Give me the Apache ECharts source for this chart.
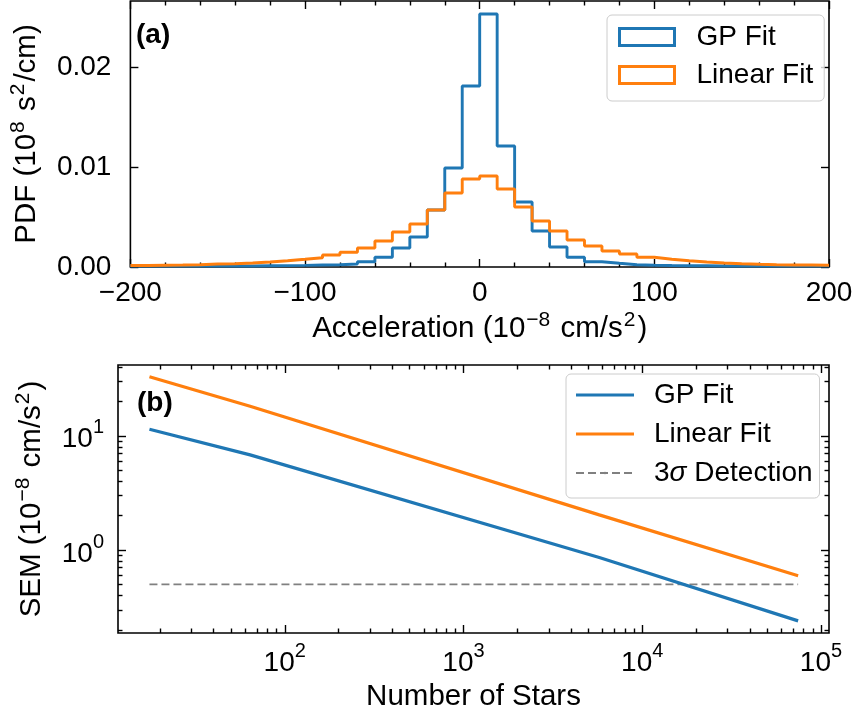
<!DOCTYPE html>
<html>
<head>
<meta charset="utf-8">
<script src="https://cdn.jsdelivr.net/npm/echarts@6/dist/echarts.min.js"></script>
<style>
  html, body { margin: 0; padding: 0; background: #ffffff; }
  #chart { width: 857px; height: 717px; }
</style>
</head>
<body>
<div id="chart"></div>
<script>
// ---- Panel (a): acceleration PDF histograms (bin edges in 1e-8 cm/s^2) ----
const binEdges = [-200, -190, -180, -170, -160, -150, -140, -130, -120, -110,
                  -100, -90, -80, -70, -60, -50, -40, -30, -20, -10,
                  0, 10, 20, 30, 40, 50, 60, 70, 80, 90,
                  100, 110, 120, 130, 140, 150, 160, 170, 180, 190, 200];
const gpDensity = [0.0001, 0.0001, 0.0001, 0.0001, 0.0001, 0.0001, 0.0001, 0.00012, 0.00014, 0.00016,
                   0.0002, 0.00022, 0.0003, 0.00053, 0.00097, 0.0019, 0.0030, 0.0057, 0.0099, 0.0181,
                   0.0253, 0.0121, 0.0065, 0.0036, 0.0020, 0.00097, 0.00053, 0.00037, 0.00022, 0.00018,
                   0.00015, 0.00013, 0.00012, 0.0001, 0.0001, 0.0001, 0.0001, 0.0001, 0.0001, 0.0001];
const linearDensity = [0.00015, 0.00018, 0.0002, 0.00023, 0.0003, 0.00033, 0.0004, 0.0005, 0.00063, 0.00077,
                       0.00093, 0.0012, 0.00147, 0.0019, 0.0026, 0.0035, 0.0043, 0.0057, 0.0074, 0.0088,
                       0.0091, 0.0078, 0.0060, 0.0046, 0.0036, 0.0027, 0.0021, 0.0016, 0.0013, 0.00097,
                       0.00077, 0.00063, 0.0005, 0.0004, 0.00033, 0.00027, 0.00023, 0.0002, 0.0002, 0.00017];
const accelTicks = [-200, -100, 0, 100, 200];
const pdfTicks = [0, 0.01, 0.02];

// ---- Panel (b): standard error of the mean vs number of stars ----
const starCounts = [17.5, 64, 5750, 74500];
const gpSem = [11.4, 6.8, 0.86, 0.24];
const linearSem = [32.8, 18.1, 2.03, 0.596];
const detectionStars = [17.5, 74500];
const detectionSem = [0.5, 0.5];
const starTicks = [100, 1000, 10000, 100000];
const starMinorTicks = [20, 30, 40, 50, 60, 70, 80, 90,
                        200, 300, 400, 500, 600, 700, 800, 900,
                        2000, 3000, 4000, 5000, 6000, 7000, 8000, 9000,
                        20000, 30000, 40000, 50000, 60000, 70000, 80000, 90000];
const semTicks = [1, 10];
const semMinorTicks = [0.2, 0.3, 0.4, 0.5, 0.6, 0.7, 0.8, 0.9,
                       2, 3, 4, 5, 6, 7, 8, 9, 20, 30, 40];

const FONT = "'Liberation Sans', Arial, Helvetica, sans-serif";
const BLUE = '#1f77b4';
const ORANGE = '#ff7f0e';
const FS = 28;       // tick labels, legends, panel tags
const NAME_FS = 29.5; // axis titles
const SUP = { fontSize: 20, fontFamily: FONT, color: '#000', lineHeight: 18, verticalAlign: 'top' };
const NAME_SUP = { fontSize: 21, fontFamily: FONT, color: '#000', lineHeight: 18, verticalAlign: 'top', padding: [0, 2, 0, 1] };
const BASE = { fontSize: FS, fontFamily: FONT, color: '#000', lineHeight: 36, verticalAlign: 'bottom' };

const MAJOR_LEN = 8, MINOR_LEN = 4.5, TICK_W = 1.4;
const NO_LINE = { show: false, onZero: false };

function stepData(edges, vals) {
  const d = vals.map((v, i) => [edges[i], v]);
  d.push([edges[edges.length - 1], vals[vals.length - 1]]);
  return d;
}
function pairs(xs, ys) { return xs.map((x, i) => [x, ys[i]]); }
function powLabel(v) {
  const e = Math.round(Math.log10(v));
  return '{b|10}{s|' + e + '}';
}

const nameStyle = { fontSize: NAME_FS, fontFamily: FONT, color: '#000', lineHeight: 38, rich: { s: NAME_SUP } };

// log-axis helper: one set of custom tick values on one side
function logAxis(kind, grid, pos, min, max, ticks, len, labels, extra) {
  return Object.assign({
    type: 'log', logBase: 10, gridIndex: grid, position: pos, min: min, max: max,
    axisLine: NO_LINE, splitLine: { show: false },
    axisTick: { show: true, inside: true, length: len, customValues: ticks, lineStyle: { color: '#000', width: TICK_W } },
    axisLabel: labels ? { show: true, customValues: ticks, formatter: powLabel, rich: { b: BASE, s: SUP }, margin: kind === 'x' ? 8 : 14 } : { show: false }
  }, extra || {});
}

const LOGX_MIN = 11.67, LOGX_MAX = 110900;
const LOGY_MIN = 0.188, LOGY_MAX = 41.6;

const option = {
  animation: false,
  backgroundColor: '#ffffff',
  textStyle: { fontFamily: FONT },
  title: [
    { text: '(a)', left: 136, top: 21, padding: 0, textStyle: { fontSize: FS, fontWeight: 'bold', fontFamily: FONT, color: '#000' } },
    { text: '(b)', left: 137, top: 389, padding: 0, textStyle: { fontSize: FS, fontWeight: 'bold', fontFamily: FONT, color: '#000' } }
  ],
  grid: [
    { left: 118, top: 1, width: 711, height: 266, show: true, borderColor: '#000', borderWidth: 1.6, containLabel: false },
    { left: 118, top: 365, width: 711, height: 268, show: true, borderColor: '#000', borderWidth: 1.6, containLabel: false }
  ],
  legend: [
    {
      orient: 'vertical', left: 607, top: 15, padding: [8, 11, 12, 11], itemGap: 10,
      itemWidth: 55, itemHeight: 17, selectedMode: false,
      backgroundColor: 'rgba(255,255,255,0.8)', borderColor: '#cccccc', borderWidth: 1, borderRadius: 5,
      textStyle: { fontSize: FS, fontFamily: FONT, color: '#000', padding: [0, 0, 0, 17] },
      data: [
        { name: 'GP Fit', icon: 'rect', itemStyle: { color: 'rgba(255,255,255,0)', borderColor: BLUE, borderWidth: 3 } },
        { name: 'Linear Fit', icon: 'rect', itemStyle: { color: 'rgba(255,255,255,0)', borderColor: ORANGE, borderWidth: 3 } }
      ]
    },
    {
      orient: 'vertical', left: 566, top: 374, padding: [7, 7, 11, 9], itemGap: 11,
      itemWidth: 58, itemHeight: 3, selectedMode: false,
      backgroundColor: 'rgba(255,255,255,0.8)', borderColor: '#cccccc', borderWidth: 1, borderRadius: 5,
      textStyle: { fontSize: FS, fontFamily: FONT, color: '#000', padding: [0, 0, 0, 15],
                   rich: { i: { fontSize: FS, fontFamily: FONT, fontStyle: 'italic', color: '#000' } } },
      formatter: name => name === '3σ Detection' ? '3{i|σ} Detection' : name,
      data: [
        { name: 'GP Fit', icon: 'rect', itemStyle: { color: BLUE, borderWidth: 0 } },
        { name: 'Linear Fit', icon: 'rect', itemStyle: { color: ORANGE, borderWidth: 0 } },
        { name: '3σ Detection' }
      ]
    }
  ],
  xAxis: [
    // panel (a) bottom
    {
      type: 'value', gridIndex: 0, position: 'bottom', min: -200, max: 200, interval: 100,
      axisLine: NO_LINE, splitLine: { show: false },
      axisTick: { show: true, inside: true, length: MAJOR_LEN, lineStyle: { color: '#000', width: TICK_W } },
      minorTick: { show: true, splitNumber: 5, length: MINOR_LEN, lineStyle: { color: '#000', width: TICK_W } },
      axisLabel: { show: true, customValues: accelTicks, margin: 12, fontSize: FS, fontFamily: FONT, color: '#000',
                   formatter: v => String(v).replace('-', '\u2212') },
      name: 'Acceleration (10{s|\u22128} cm/s{s|2})', nameLocation: 'middle', nameGap: 43, nameTextStyle: nameStyle
    },
    // panel (a) top
    {
      type: 'value', gridIndex: 0, position: 'top', min: -200, max: 200, interval: 100,
      axisLine: NO_LINE, splitLine: { show: false },
      axisTick: { show: true, inside: true, length: MAJOR_LEN, lineStyle: { color: '#000', width: TICK_W } },
      minorTick: { show: true, splitNumber: 5, length: MINOR_LEN, lineStyle: { color: '#000', width: TICK_W } },
      axisLabel: { show: false }
    },
    // panel (b)
    logAxis('x', 1, 'bottom', LOGX_MIN, LOGX_MAX, starTicks, MAJOR_LEN, true,
            { name: 'Number of Stars', nameLocation: 'middle', nameGap: 45, nameTextStyle: nameStyle }),
    logAxis('x', 1, 'bottom', LOGX_MIN, LOGX_MAX, starMinorTicks, MINOR_LEN, false),
    logAxis('x', 1, 'top', LOGX_MIN, LOGX_MAX, starTicks, MAJOR_LEN, false),
    logAxis('x', 1, 'top', LOGX_MIN, LOGX_MAX, starMinorTicks, MINOR_LEN, false)
  ],
  yAxis: [
    {
      type: 'value', gridIndex: 0, position: 'left', min: 0, max: 0.0266, interval: 0.01,
      axisLine: NO_LINE, splitLine: { show: false },
      axisTick: { show: true, inside: true, length: MAJOR_LEN, customValues: pdfTicks, lineStyle: { color: '#000', width: TICK_W } },
      axisLabel: { show: true, customValues: pdfTicks, margin: 19, fontSize: FS, fontFamily: FONT, color: '#000',
                   formatter: v => v.toFixed(2) },
      name: 'PDF (10{s|8} s{s|2}/cm)', nameLocation: 'middle', nameGap: 62, nameRotate: 90, nameTextStyle: nameStyle
    },
    {
      type: 'value', gridIndex: 0, position: 'right', min: 0, max: 0.0266, interval: 0.01,
      axisLine: NO_LINE, splitLine: { show: false },
      axisTick: { show: true, inside: true, length: MAJOR_LEN, customValues: pdfTicks, lineStyle: { color: '#000', width: TICK_W } },
      axisLabel: { show: false }
    },
    logAxis('y', 1, 'left', LOGY_MIN, LOGY_MAX, semTicks, MAJOR_LEN, true,
            { name: 'SEM (10{s|\u22128} cm/s{s|2})', nameLocation: 'middle', nameGap: 57, nameRotate: 90, nameTextStyle: nameStyle }),
    logAxis('y', 1, 'left', LOGY_MIN, LOGY_MAX, semMinorTicks, MINOR_LEN, false),
    logAxis('y', 1, 'right', LOGY_MIN, LOGY_MAX, semTicks, MAJOR_LEN, false),
    logAxis('y', 1, 'right', LOGY_MIN, LOGY_MAX, semMinorTicks, MINOR_LEN, false)
  ],
  series: [
    {
      name: 'GP Fit', type: 'line', xAxisIndex: 0, yAxisIndex: 0, step: 'end', symbol: 'none',
      data: stepData(binEdges, gpDensity), lineStyle: { color: BLUE, width: 2.9 }, itemStyle: { color: BLUE }, z: 3
    },
    {
      name: 'Linear Fit', type: 'line', xAxisIndex: 0, yAxisIndex: 0, step: 'end', symbol: 'none',
      data: stepData(binEdges, linearDensity), lineStyle: { color: ORANGE, width: 2.9 }, itemStyle: { color: ORANGE }, z: 4
    },
    {
      name: 'GP Fit', type: 'line', xAxisIndex: 2, yAxisIndex: 2, symbol: 'none',
      data: pairs(starCounts, gpSem), lineStyle: { color: BLUE, width: 3.2 }, itemStyle: { color: BLUE }, z: 3
    },
    {
      name: 'Linear Fit', type: 'line', xAxisIndex: 2, yAxisIndex: 2, symbol: 'none',
      data: pairs(starCounts, linearSem), lineStyle: { color: ORANGE, width: 3.2 }, itemStyle: { color: ORANGE }, z: 4
    },
    {
      name: '3σ Detection', type: 'line', xAxisIndex: 2, yAxisIndex: 2, symbol: 'none',
      data: pairs(detectionStars, detectionSem),
      lineStyle: { color: '#808080', width: 1.7, type: [8, 4] }, itemStyle: { color: '#808080' }, z: 2
    }
  ]
};

const chart = echarts.init(document.getElementById('chart'), null, { renderer: 'canvas' });
chart.setOption(option);
</script>
</body>
</html>
